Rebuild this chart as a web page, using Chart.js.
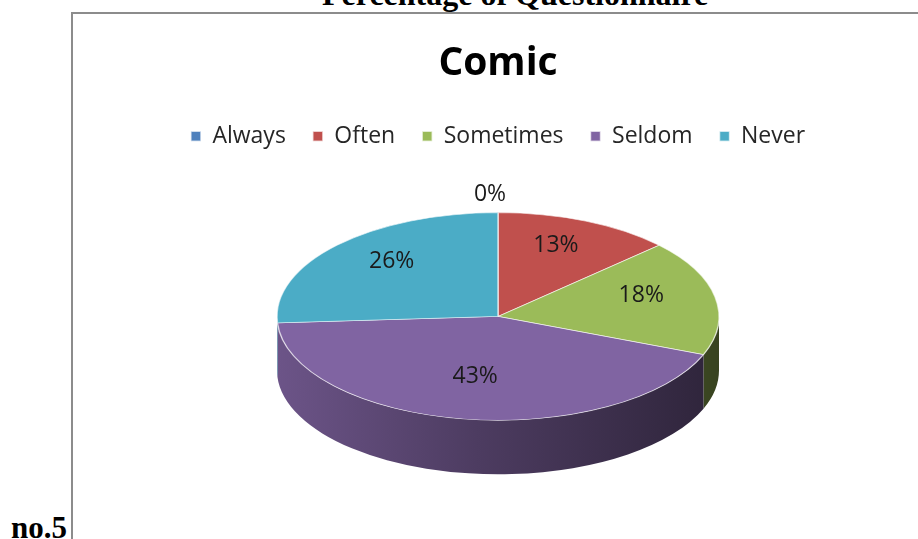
<!DOCTYPE html>
<html>
<head>
<meta charset="utf-8">
<script src="https://cdn.jsdelivr.net/npm/chart.js@4"></script>
<style>
  html, body { margin: 0; padding: 0; background: #fff; }
  body { width: 918px; height: 539px; overflow: hidden; position: relative; }
  .serif { position: absolute; font-family: "Liberation Serif", "Times New Roman", serif; font-weight: bold; color: #000; white-space: nowrap; }
  #pageTitle { left: 322px; top: -22px; font-size: 32px; line-height: 32px; }
  #figNo { left: 11px; top: 512px; font-size: 31px; line-height: 31px; }
  #frame { position: absolute; left: 71px; top: 12px; width: 900px; height: 525px;
           border-left: 2px solid #8c8c8c; border-top: 2px solid #8c8c8c; border-bottom: 1px solid #d0d0d0; }
  #pie { position: absolute; left: 73px; top: 14px; }
</style>
</head>
<body>
<div class="serif" id="pageTitle">Percentage of Questionnaire</div>
<div id="frame"></div>
<div class="serif" id="figNo">no.5</div>
<canvas id="pie" width="850" height="525"></canvas>

<script>
// ── 데이터 ──
const categories = ['Always', 'Often', 'Sometimes', 'Seldom', 'Never'];
const percents   = [0, 13, 18, 43, 26];
const colors     = ['#4f81bd', '#c0504d', '#9bbb59', '#8064a2', '#4bacc6'];

// ── 3D 느낌 (기울기, 옆면 두께) ──
const TILT  = 0.47;   // 세로 압축 비율
const DEPTH = 54;     // 옆면 두께 (px)

function shade(hex, f) {
  const n = parseInt(hex.slice(1), 16);
  const r = Math.round(((n >> 16) & 255) * f);
  const g = Math.round(((n >> 8) & 255) * f);
  const b = Math.round((n & 255) * f);
  return `rgb(${r},${g},${b})`;
}

// 파이를 눌러서 타원으로 만들고 옆면을 그리는 플러그인
const tiltPlugin = {
  id: 'tilt',
  beforeDatasetsDraw(chart) {
    const ctx = chart.ctx;
    const arcs = chart.getDatasetMeta(0).data;
    const cx = arcs[0].x, cy = arcs[0].y;
    ctx.save();
    ctx.translate(0, cy);
    ctx.scale(1, TILT);
    ctx.translate(0, -cy);

    const d = DEPTH / TILT;
    arcs.forEach((a, i) => {
      const p = a.getProps(['startAngle', 'endAngle', 'outerRadius']);
      const s = Math.max(p.startAngle, 0);
      const e = Math.min(p.endAngle, Math.PI);
      if (e <= s) return;
      const r = p.outerRadius;
      const g = ctx.createLinearGradient(cx - r, 0, cx + r, 0);
      g.addColorStop(0, shade(colors[i], 0.84));
      g.addColorStop(0.45, shade(colors[i], 0.6));
      g.addColorStop(1, shade(colors[i], 0.36));
      ctx.beginPath();
      ctx.arc(cx, cy, r, s, e);
      ctx.arc(cx, cy + d, r, e, s, true);
      ctx.closePath();
      ctx.fillStyle = g;
      ctx.fill();
    });
  },
  afterDatasetsDraw(chart) {
    const ctx = chart.ctx;
    ctx.restore();

    // 퍼센트 라벨
    const arcs = chart.getDatasetMeta(0).data;
    ctx.save();
    ctx.font = '23px "Open Sans", sans-serif';
    ctx.fillStyle = '#1a1a1a';
    ctx.textAlign = 'center';
    ctx.textBaseline = 'middle';
    arcs.forEach((a, i) => {
      const p = a.getProps(['x', 'y', 'startAngle', 'endAngle', 'outerRadius']);
      const mid = (p.startAngle + p.endAngle) / 2;
      let px, py;
      if (percents[i] === 0) {
        px = p.x + Math.cos(mid) * p.outerRadius - 8;
        py = p.y + Math.sin(mid) * p.outerRadius * TILT - 18;
      } else {
        const rr = p.outerRadius * 0.66;
        px = p.x + Math.cos(mid) * rr;
        py = p.y + Math.sin(mid) * rr * TILT - 8;
      }
      ctx.fillText(percents[i] + '%', px, py);
    });
    ctx.restore();
  }
};

const ctxPie = document.getElementById('pie').getContext('2d');
new Chart(ctxPie, {
  type: 'pie',
  data: {
    labels: categories,
    datasets: [{
      data: percents,
      backgroundColor: colors,
      borderColor: 'rgba(255,255,255,0.65)',
      borderWidth: 1.5,
      radius: 221,
      clip: false
    }]
  },
  options: {
    responsive: false,
    animation: false,
    layout: { padding: { bottom: 64 } },
    plugins: {
      title: {
        display: true,
        text: 'Comic',
        color: '#000',
        font: { family: '"Open Sans", sans-serif', size: 39, weight: 'bold' },
        padding: { top: 26, bottom: 11 }
      },
      legend: {
        position: 'top',
        labels: {
          color: '#262626',
          font: { family: '"Open Sans", sans-serif', size: 23 },
          boxWidth: 10,
          boxHeight: 10,
          padding: 27
        }
      },
      tooltip: { enabled: false }
    }
  },
  plugins: [tiltPlugin]
});
</script>
</body>
</html>
